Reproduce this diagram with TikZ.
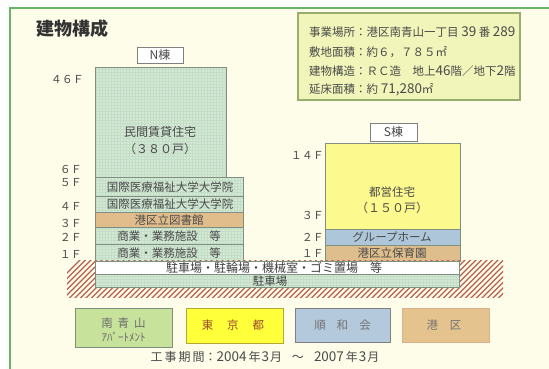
\documentclass[tikz,border=0pt]{standalone}
\usepackage{fontspec}
\setmainfont{Noto Sans CJK JP}
\definecolor{cream}{HTML}{FEFDE9}
\definecolor{framec}{HTML}{6AB46A}
\definecolor{mint}{HTML}{D3E8D5}
\definecolor{mintgrid}{HTML}{C4DDC7}
\definecolor{bord}{HTML}{7F8F80}
\definecolor{libc}{HTML}{E2BD8C}
\definecolor{yel}{HTML}{FCF98E}
\definecolor{bluegh}{HTML}{AEC6DA}
\definecolor{tanc}{HTML}{DDBE8C}
\definecolor{hatchc}{HTML}{B8604C}
\definecolor{infof}{HTML}{F1F5B9}
\definecolor{infob}{HTML}{98AE6E}
\definecolor{legA}{HTML}{C6E29B}
\definecolor{legB}{HTML}{FFFF3A}
\definecolor{legC}{HTML}{B5C9DC}
\definecolor{legD}{HTML}{E4C38F}
\definecolor{txt}{HTML}{4A4A4A}
\definecolor{titlec}{HTML}{333333}
\definecolor{redbr}{HTML}{9A4A30}
\newcommand{\dg}[1]{{\fontsize{13.5}{12}\selectfont #1}}
\tikzset{
  t/.style={inner sep=0pt, text=txt, font=\fontsize{11.5}{12}\selectfont},
  fl/.style={inner sep=0pt, text=txt, anchor=east, font=\fontsize{11}{12}\selectfont},
  info/.style={inner sep=0pt, text=txt, anchor=west, font=\fontsize{11.5}{12}\selectfont},
  tag/.style={draw=gray, line width=0.8, fill=white, inner sep=0pt, text=txt, font=\fontsize{12}{12}\selectfont},
  edge/.style={draw=bord, line width=0.8},
  grd/.style={draw=mintgrid, line width=0.25},
  leg/.style={draw=bord, line width=0.8},
}
\begin{document}
\begin{tikzpicture}[x=1pt,y=-1pt]
\useasboundingbox (0,0) rectangle (549,369);
\fill[white] (0,0) rectangle (549,369);
\draw[framec, line width=2, fill=cream] (10,8) rectangle (600,420);

% title
\node[inner sep=0pt, anchor=west, text=titlec, font=\fontsize{18}{20}\selectfont\bfseries] (title) at (36,29) {建物構成};

% info box
\draw[infob, line width=1.2, fill=infof] (298,13) rectangle (520,100);
\node[info] (info1) at (309,32) {事業場所：港区南青山一丁目 \dg{39} 番 \dg{289}};
\node[info] (info2) at (309,52) {敷地面積：約６，７８５㎡};
\node[info] (info3) at (309,71) {建物構造：ＲＣ造　地上\dg{46}階／地下\dg{2}階};
\node[info] (info4) at (309,90) {延床面積：約 \dg{71,280}㎡};

% N tower
\fill[mint] (95,67) rectangle (226,177);
\draw[grd, step=3pt] (95,177) grid (226,67);
\draw[edge] (95,177) -- (95,67) -- (226,67) -- (226,177);
\node[tag, minimum width=46, minimum height=16] (ntag) at (160,55) {N棟};
\node[t, font=\fontsize{12}{12}\selectfont] (ntxt1) at (160,132) {民間賃貸住宅};
\node[t, font=\fontsize{12}{12}\selectfont] (ntxt2) at (160,149) {（３８０戸）};

% N podium
\fill[mint] (95,177) rectangle (243,212);
\fill[mint] (95,227) rectangle (243,261);
\draw[grd, step=3pt] (95,212) grid (243,177);
\draw[grd, step=3pt] (95,261) grid (243,227);
\fill[libc] (95,212) rectangle (243,227);
\draw[edge] (95,177) rectangle (243,261);
\draw[edge] (95,196) -- (243,196);
\draw[edge] (95,212) -- (243,212);
\draw[edge] (95,227) -- (243,227);
\draw[edge] (95,244) -- (243,244);
\node[t] (n5) at (170,187) {国際医療福祉大学大学院};
\node[t] (n4) at (170,204) {国際医療福祉大学大学院};
\node[t] (n3) at (169,220) {港区立図書館};
\node[t] (n2) at (169,236) {商業・業務施設　等};
\node[t] (n1) at (169,253) {商業・業務施設　等};

% N floor labels
\node[fl] (f46) at (84,79) {４６Ｆ};
\node[fl] (f6) at (82,169) {６Ｆ};
\node[fl] (f5) at (82,183) {５Ｆ};
\node[fl] (f4) at (82,206) {４Ｆ};
\node[fl] (f3) at (82,223) {３Ｆ};
\node[fl] (f2) at (82,237) {２Ｆ};
\node[fl] (f1) at (82,254) {１Ｆ};

% S building
\fill[yel] (325,143) rectangle (460,229);
\fill[bluegh] (325,229) rectangle (460,245);
\fill[tanc] (325,245) rectangle (460,261);
\draw[edge] (325,143) rectangle (460,261);
\draw[edge] (325,229) -- (460,229);
\draw[edge] (325,245) -- (460,245);
\node[tag, minimum width=47, minimum height=18] (stag) at (393.5,132) {S棟};
\node[t] (stxt1) at (392,192) {都営住宅};
\node[t, font=\fontsize{12}{12}\selectfont] (stxt2) at (392,208) {（１５０戸）};
\node[t] (sgh) at (392,237) {グループホーム};
\node[t] (snur) at (392,253) {港区立保育園};
\node[fl] (s14) at (324,155) {１４Ｆ};
\node[fl] (s3) at (324,215) {３Ｆ};
\node[fl] (s2) at (324,237) {２Ｆ};
\node[fl] (s1) at (324,253) {１Ｆ};

% hatch
\begin{scope}
\clip (67,260) rectangle (503,297);
\foreach \i in {0,5.5,...,480} \draw[hatchc, line width=1.2] (40+\i,300) -- ++(45,-45);
\end{scope}

% basement
\fill[white] (95,261) rectangle (459,274);
\fill[mint] (95,274) rectangle (459,287);
\draw[grd, step=3pt] (95,287) grid (459,274);
\draw[edge] (95,261) rectangle (459,287);
\draw[edge] (95,274) -- (459,274);
\node[t, text=black!75, font=\fontsize{12}{12}\selectfont] (b1) at (274,268) {駐車場・駐輪場・機械室・ゴミ置場　等};
\node[t, text=black!75] (b2) at (270,281) {駐車場};

% legend
\fill[legA] (75,308) rectangle (172,347);
\draw[leg] (75,308) rectangle (172,347);
\node[t, text=gray!85!black] (la1) at (123.5,323) {南\hspace{5pt}青\hspace{5pt}山};
\node[t, text=gray!85!black, font=\fontsize{11}{12}\selectfont] (la2) at (123.5,337) {ｱﾊﾟｰﾄﾒﾝﾄ};
\fill[legB] (186,308) rectangle (283,343);
\draw[leg, draw=olive!70] (186,308) rectangle (283,343);
\node[t, text=redbr] (lb) at (233,325) {東\hspace{14pt}京\hspace{14pt}都};
\fill[legC] (295,308) rectangle (390,342);
\draw[leg, draw=gray] (295,308) rectangle (390,342);
\node[t, text=gray!90!black] (lc) at (342.5,325) {順\hspace{11pt}和\hspace{11pt}会};
\fill[legD] (402,308) rectangle (489,342);
\draw[leg, draw=brown!60] (402,308) rectangle (489,342);
\node[t, text=gray!90!black] (ld) at (444,325) {港\hspace{12pt}区};

\node[t, font=\fontsize{12}{12}\selectfont] (period) at (265,357) {工\hspace{2pt}事\hspace{2pt}期\hspace{2pt}間：\dg{2004}\hspace{2pt}年\hspace{1pt}\dg{3}\hspace{1pt}月\hspace{10pt}～\hspace{10pt}\dg{2007}\hspace{2pt}年\hspace{1pt}\dg{3}\hspace{1pt}月};
\end{tikzpicture}
\end{document}
